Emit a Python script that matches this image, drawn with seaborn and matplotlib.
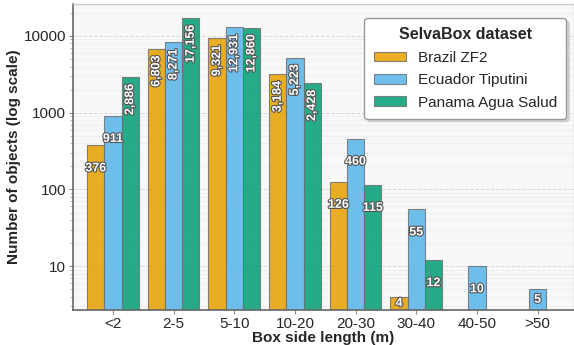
import numpy as np
import pandas as pd
import matplotlib
matplotlib.use("Agg")
import matplotlib.pyplot as plt
import matplotlib.patheffects as pe
from matplotlib.ticker import FixedLocator, FuncFormatter, NullFormatter, LogLocator
import seaborn as sns

categories = ["<2", "2-5", "5-10", "10-20", "20-30", "30-40", "40-50", ">50"]
datasets = ["Brazil ZF2", "Ecuador Tiputini", "Panama Agua Salud"]
brazil = [376, 6803, 9321, 3184, 126, 4, np.nan, np.nan]
ecuador = [911, 8271, 12931, 5223, 460, 55, 10, 5]
panama = [2886, 17156, 12860, 2428, 115, 12, np.nan, np.nan]
colors = ["#E69F00", "#56B4E9", "#009E73"]

rows = []
for name, vals in zip(datasets, [brazil, ecuador, panama]):
    for c, v in zip(categories, vals):
        rows.append({"size": c, "dataset": name, "count": v})
df = pd.DataFrame(rows)

sns.set_theme(style="whitegrid")
plt.rcParams["font.family"] = ["Liberation Sans", "DejaVu Sans"]

fig = plt.figure(figsize=(5.74, 3.45), dpi=100)
ax = fig.add_axes([0.127, 0.101, 0.873, 0.887])
ax.set_facecolor("#f8f8f8")

sns.barplot(data=df, x="size", y="count", hue="dataset", order=categories,
            hue_order=datasets, palette=colors, width=0.85, alpha=0.85,
            saturation=1, edgecolor="#707070", linewidth=0.8, ax=ax, legend=True)

ax.set_yscale("log")
ax.set_ylim(2.67, 26000)
ax.set_xlim(-0.66, 7.6)

ax.yaxis.set_major_locator(FixedLocator([10, 100, 1000, 10000]))
ax.yaxis.set_major_formatter(FuncFormatter(lambda v, p: f"{int(v)}"))
ax.yaxis.set_minor_locator(LogLocator(base=10, subs=np.arange(2, 10)))
ax.yaxis.set_minor_formatter(NullFormatter())

ax.grid(False)
ax.grid(which="major", axis="y", linestyle="--", color="#d8d8d8", linewidth=0.7)
ax.grid(which="minor", axis="y", linestyle="-", color="#ececec", linewidth=0.5)
ax.set_axisbelow(True)

for side in ["left", "bottom"]:
    ax.spines[side].set_color("#666666")
    ax.spines[side].set_linewidth(1.2)
for side in ["top", "right"]:
    ax.spines[side].set_color("#cccccc")
    ax.spines[side].set_linewidth(1.0)

ax.tick_params(axis="both", which="major", labelsize=11, length=3, width=0.8,
               color="#888888", pad=2, left=True, bottom=True)
ax.tick_params(axis="y", which="minor", length=2, width=0.5, color="#999999", left=True)

ax.set_xlabel("Box side length (m)", fontsize=11, fontweight="bold", labelpad=0)
ax.set_ylabel("Number of objects (log scale)", fontsize=11, fontweight="bold", labelpad=2)

ymin = ax.get_ylim()[0]
stroke = [pe.withStroke(linewidth=1.6, foreground="#555555")]
for cont in ax.containers:
    for bar in cont:
        h = bar.get_height()
        if not np.isfinite(h) or h <= 0:
            continue
        xc = bar.get_x() + bar.get_width() / 2
        label = f"{int(h):,}"
        if h >= 1000:
            ax.text(xc, h * 0.82, label, rotation=90, ha="center", va="top",
                    color="white", fontsize=9, fontweight="bold", path_effects=stroke)
        else:
            y = h * 0.5
            if y < ymin * 1.4:
                y = np.sqrt(h * ymin)
            ax.text(xc, y, label, ha="center", va="center",
                    color="white", fontsize=9, fontweight="bold", path_effects=stroke)

leg = ax.legend(title="SelvaBox dataset", loc="upper right",
                bbox_to_anchor=(1.0, 0.979), fontsize=11, title_fontsize=11.5,
                frameon=True, fancybox=True,
                shadow={"color": "0.75", "alpha": 0.6},
                framealpha=1, edgecolor="#999999", handlelength=2.1,
                handleheight=0.6, borderpad=0.6, labelspacing=0.55)
leg.get_title().set_fontweight("bold")
leg.get_frame().set_linewidth(1.0)
leg.get_frame().set_facecolor("white")

fig.savefig("out.png", dpi=100)
